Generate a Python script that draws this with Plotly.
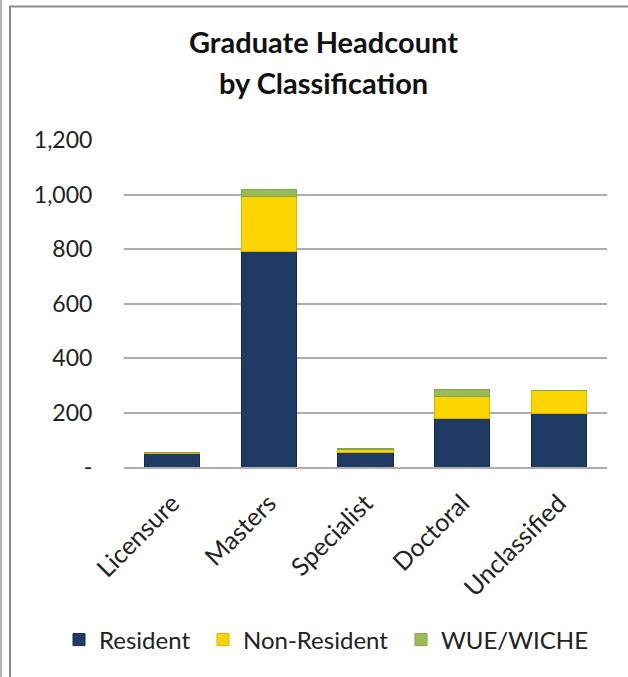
import plotly.graph_objects as go

categories = ["Licensure", "Masters", "Specialist", "Doctoral", "Unclassified"]
resident = [49, 790, 55, 178, 196]
non_resident = [3, 203, 9, 82, 83]
wue_wiche = [1, 27, 3, 25, 1]

series_names = ["Resident", "Non-Resident", "WUE/WICHE"]
series_colors = ["#1F3B63", "#FFD500", "#9BBB59"]
series_edges = ["#16294A", "#D9B400", "#84A44A"]

tick_vals = [0, 200, 400, 600, 800, 1000, 1200]
tick_text = ["-", "200", "400", "600", "800", "1,000", "1,200"]

title_lines = ["Graduate Headcount", "by Classification"]

FONT = "Lato"
W, H = 628, 677
L, R, T, B = 124, 21, 140, 210

pw = W - L - R
ph = H - T - B
def px(x):
    return (x - L) / pw
def py(y):
    return (H - B - y) / ph

legend_ids = ["legend", "legend2", "legend3"]
legend_left = [59, 203, 401]

fig = go.Figure()
for name, vals, col, edge, lid in zip(series_names, [resident, non_resident, wue_wiche],
                                      series_colors, series_edges, legend_ids):
    fig.add_trace(go.Bar(
        x=categories, y=vals, name=name, legend=lid,
        marker=dict(color=col, line=dict(color=edge, width=1)),
    ))

shapes = [
    dict(type="line", xref="paper", yref="paper", x0=px(1), x1=px(1), y0=py(0), y1=py(H),
         line=dict(color="#B4B4B4", width=2)),
    dict(type="line", xref="paper", yref="paper", x0=px(10), x1=px(10), y0=py(6.5), y1=py(H),
         line=dict(color="#8C8C8C", width=2)),
    dict(type="line", xref="paper", yref="paper", x0=px(9), x1=px(W), y0=py(6.5), y1=py(6.5),
         line=dict(color="#8C8C8C", width=2)),
]

annotations = [
    dict(text="<b>" + title_lines[0] + "</b>", xref="paper", yref="paper",
         x=px(323), y=py(42), xanchor="center", yanchor="middle", showarrow=False,
         font=dict(family=FONT, size=29, color="#111111")),
    dict(text="<b>" + title_lines[1] + "</b>", xref="paper", yref="paper",
         x=px(323), y=py(83), xanchor="center", yanchor="middle", showarrow=False,
         font=dict(family=FONT, size=29, color="#111111")),
]

layout_legends = {}
for lid, lx in zip(legend_ids, legend_left):
    layout_legends[lid] = dict(
        orientation="h", x=lx / W, xanchor="left", xref="container",
        y=1 - 640 / H, yanchor="middle", yref="container",
        font=dict(family=FONT, size=24, color="#222222"),
        bgcolor="rgba(0,0,0,0)",
    )

fig.update_layout(
    width=W, height=H,
    barmode="stack", bargap=0.43,
    paper_bgcolor="white", plot_bgcolor="white",
    margin=dict(l=L, r=R, t=T, b=B, autoexpand=False),
    font=dict(family=FONT, color="#222222", size=23),
    shapes=shapes,
    annotations=annotations,
    showlegend=True,
    **layout_legends,
)
fig.update_yaxes(range=[0, 1200], tickvals=tick_vals, ticktext=tick_text,
                 showgrid=True, gridcolor="#ADADAD", gridwidth=1.5,
                 zeroline=False, showline=False,
                 ticks="outside", ticklen=26, tickcolor="rgba(0,0,0,0)",
                 tickfont=dict(family=FONT, size=23, color="#222222"))
fig.update_xaxes(tickangle=-45, showline=True, linecolor="#ADADAD", linewidth=1.5,
                 ticks="outside", ticklen=10, tickcolor="rgba(0,0,0,0)",
                 tickfont=dict(family=FONT, size=25, color="#222222"))

fig.write_html("out.html", config={"displayModeBar": False},
               post_script="document.body.style.margin='0px';document.body.style.overflow='hidden';")
